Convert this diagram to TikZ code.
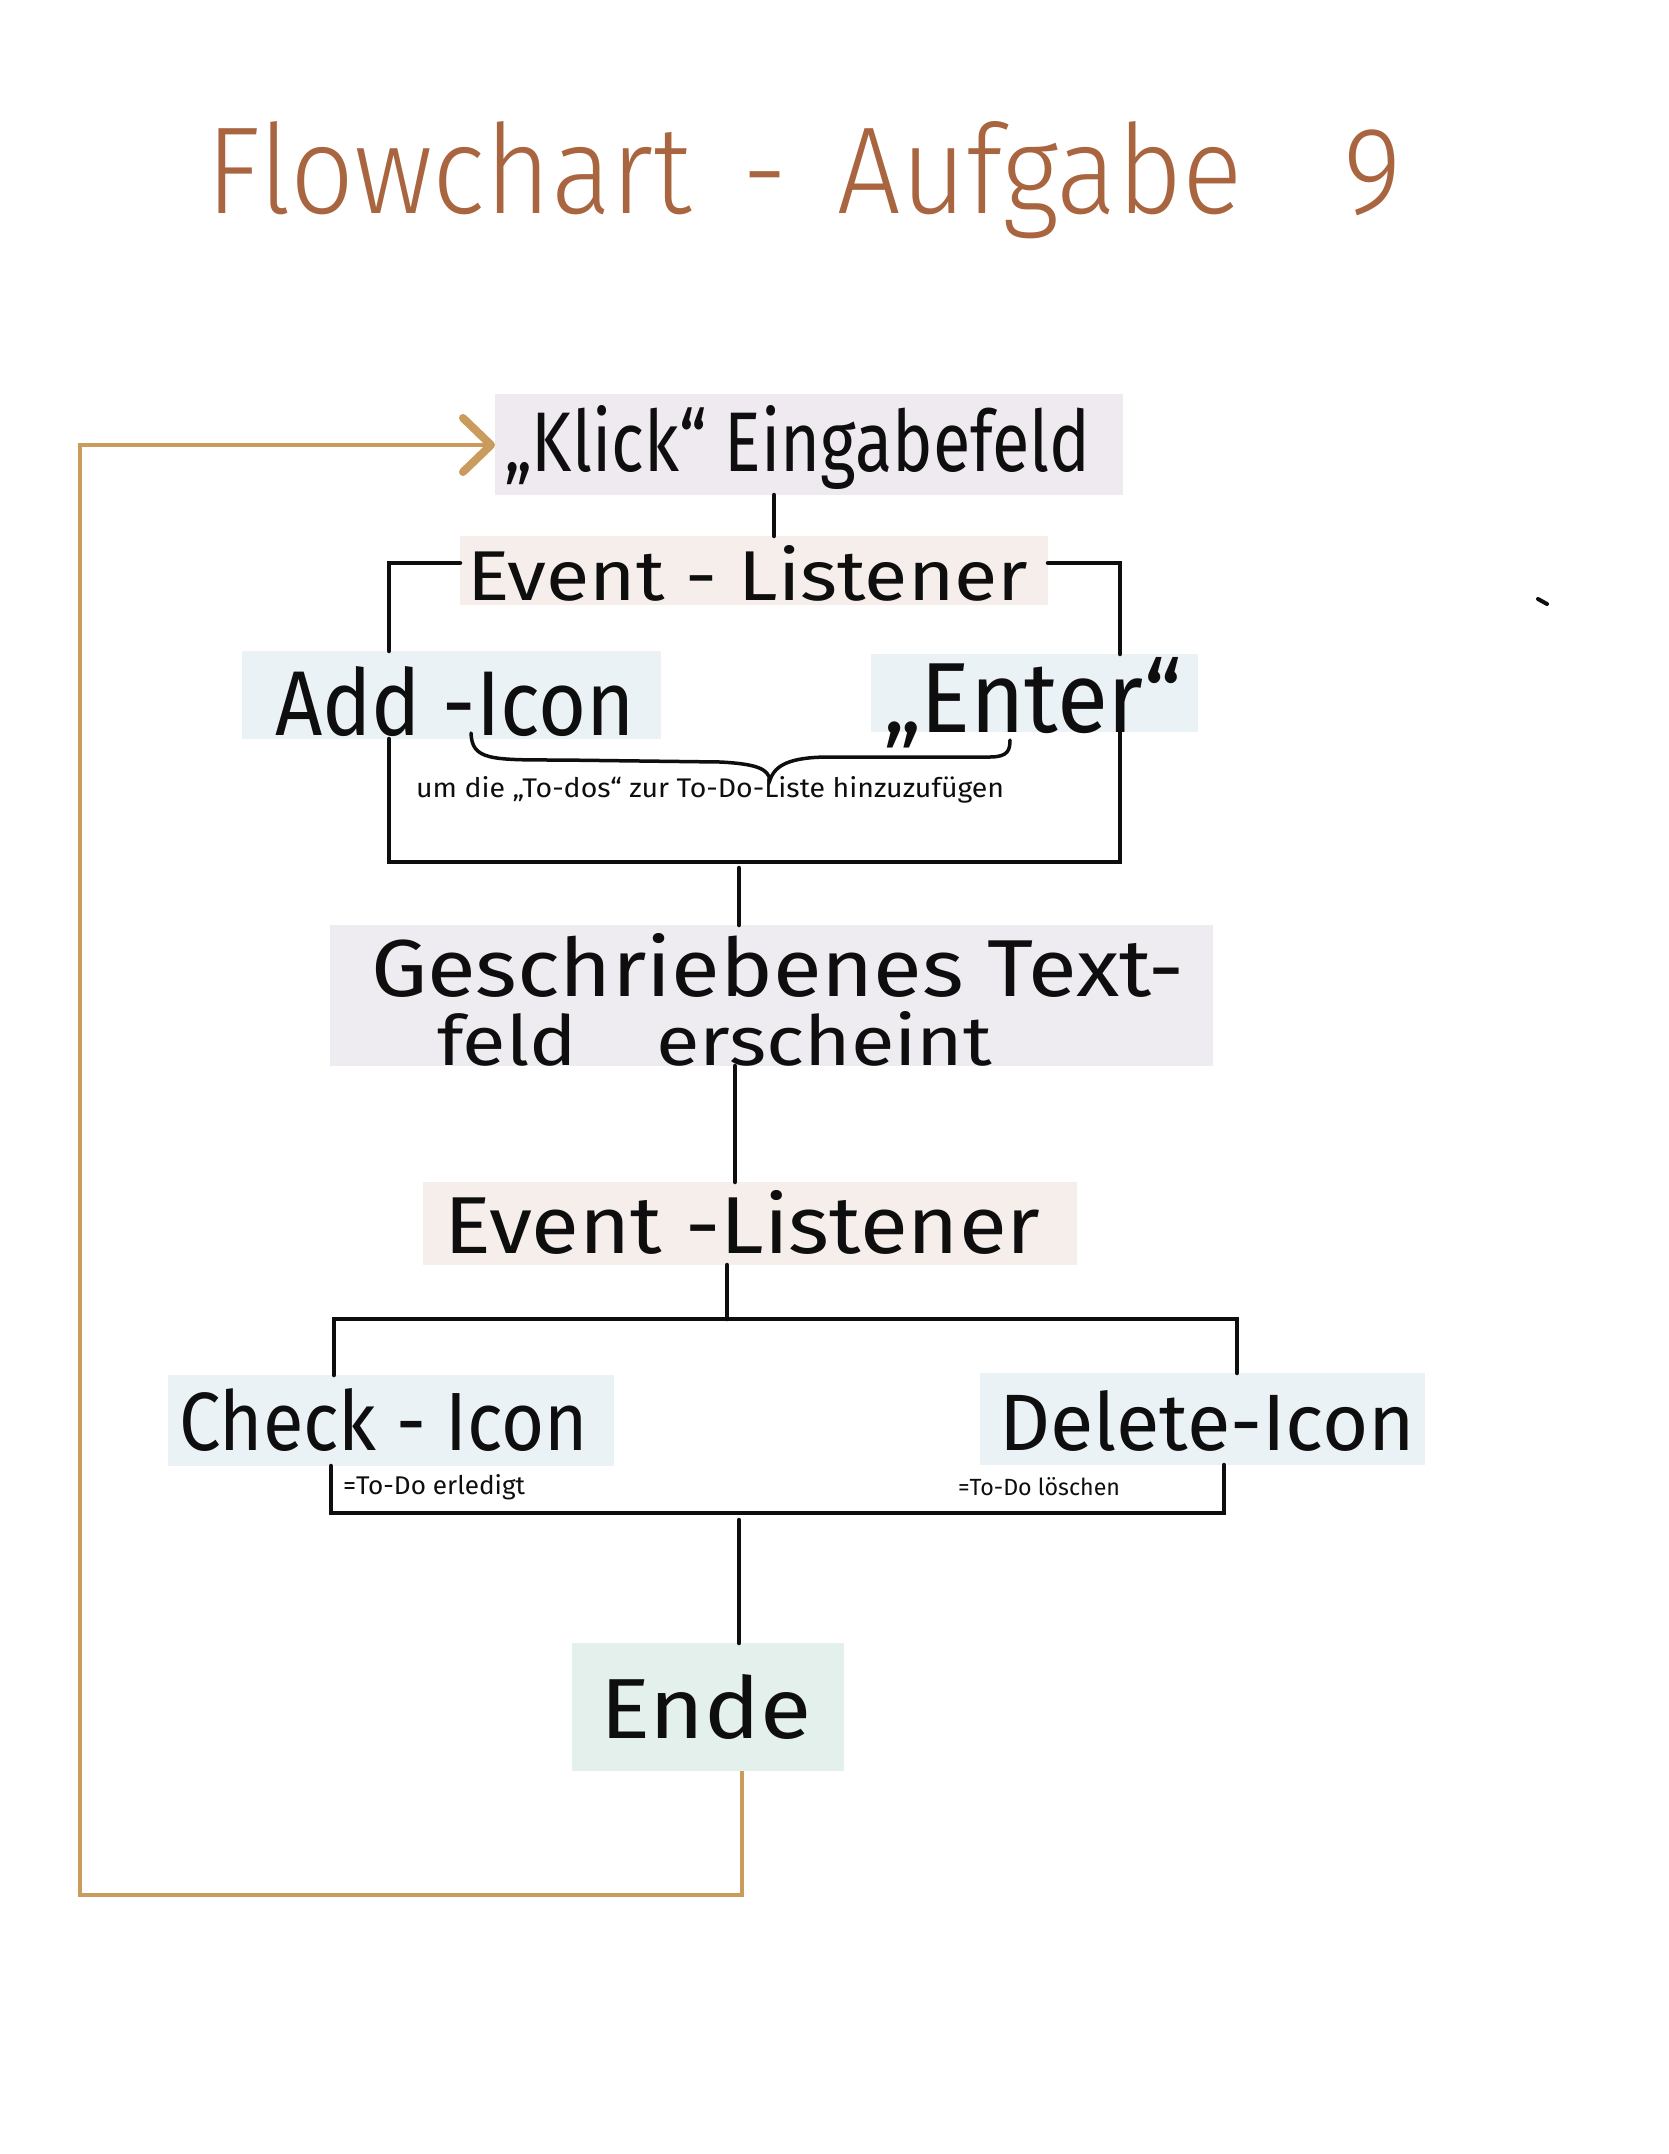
\documentclass[tikz,border=0pt]{standalone}
\usepackage{fontspec}
\setmainfont{Fira Sans}
\newfontfamily\titlefont{Fira Sans Light}
\usepackage{graphicx}
\usetikzlibrary{arrows.meta}
\definecolor{titlec}{HTML}{A9653F}
\definecolor{loopc}{HTML}{C99B5C}
\definecolor{inkc}{HTML}{0E0E0E}
\definecolor{klickc}{HTML}{EFEAEF}
\definecolor{elc}{HTML}{F6EEEB}
\definecolor{bluec}{HTML}{EBF2F5}
\definecolor{geschc}{HTML}{EEECF0}
\definecolor{endec}{HTML}{E4F0EC}
\newcommand{\fitt}[3]{\resizebox{#1pt}{#2pt}{#3}}
\begin{document}
\begin{tikzpicture}[x=1pt,y=-1pt,
  box/.style={draw=none,inner sep=0pt,outer sep=0pt,anchor=north west},
  txt/.style={inner sep=0pt,outer sep=0pt,anchor=base west,text=inkc},
  conn/.style={line width=4.5pt,draw=inkc,line cap=round,line join=miter},
  loopline/.style={line width=4.5pt,draw=loopc,line join=miter}]
\useasboundingbox (0,0) rectangle (1668,2154);
\fill[white] (0,0) rectangle (1668,2154);

% title
\node[txt,text=titlec] (title) at (206,213) {\titlefont\fitt{1195}{92}{\titlefont Flowchart\hspace{0.45em}-\hspace{0.45em}Aufgabe\hspace{0.9em}9}};

% boxes
\node[box,fill=klickc,minimum width=628pt,minimum height=101pt] (klick) at (495,394) {};
\node[box,fill=elc,minimum width=588pt,minimum height=69pt] (el1) at (460,536) {};
\node[box,fill=bluec,minimum width=419pt,minimum height=88pt] (add) at (242,651) {};
\node[box,fill=bluec,minimum width=327pt,minimum height=78pt] (enter) at (871,654) {};
\node[box,fill=geschc,minimum width=883pt,minimum height=141pt] (gesch) at (330,925) {};
\node[box,fill=elc,minimum width=654pt,minimum height=83pt] (el2) at (423,1182) {};
\node[box,fill=bluec,minimum width=446pt,minimum height=91pt] (check) at (168,1375) {};
\node[box,fill=bluec,minimum width=445pt,minimum height=92pt] (delete) at (980,1373) {};
\node[box,fill=endec,minimum width=272pt,minimum height=128pt] (ende) at (572,1643) {};

% texts
\node[txt] (tklick) at (504,471) {\fitt{586}{66}{„Klick“ Eingabefeld}};
\node[txt] (tel1) at (467,600) {\fitt{561}{55}{Event - Listener}};
\node[txt] (tadd) at (275,735) {\fitt{360}{69}{Add -Icon}};
\node[txt] (tenter) at (883,732) {\fitt{299}{75}{„Enter“}};
\node[txt] (tann1) at (416,797) {\fitt{588}{21}{um die „To-dos“ zur To-Do-Liste hinzuzufügen}};
\node[txt] (tg1) at (371,996) {\fitt{813}{63}{Geschriebenes Text-}};
\node[txt] (tg2) at (437,1065) {\fitt{555}{54}{feld\hspace{1em}erscheint}};
\node[txt] (tel2) at (444,1253) {\fitt{596}{63}{Event -Listener}};
\node[txt] (tcheck) at (179,1450) {\fitt{409}{62}{Check - Icon}};
\node[txt] (tdelete) at (999,1450) {\fitt{416}{60}{Delete-Icon}};
\node[txt] (tann2) at (343,1494) {\fitt{182}{20}{=To-Do erledigt}};
\node[txt] (tann3) at (958,1495) {\fitt{162}{18}{=To-Do löschen}};
\node[txt] (tende) at (600,1738) {\fitt{211}{64}{Ende}};

% junction coordinates
\coordinate (j1) at (739,862);
\coordinate (j2) at (727,1319);
\coordinate (j3) at (739,1513);

% connectors
\draw[conn] (774,0 |- klick.south) -- (774,0 |- el1.north);
\draw[conn] (el1.west |- 0,563) -- (389,563) -- (389,0 |- add.north);
\draw[conn] (el1.east |- 0,563) -- (1120,563) -- (1120,0 |- enter.north);
\draw[conn] (389,0 |- add.south) -- (389,862) -- (1120,862) -- (1120,0 |- enter.south);
\draw[conn] (739,868) -- (739,0 |- gesch.north);
\draw[conn] (735,0 |- gesch.south) -- (735,0 |- el2.north);
\draw[conn] (727,0 |- el2.south) -- (j2);
\draw[conn] (334,0 |- check.north) -- (334,1319) -- (1237,1319) -- (1237,0 |- delete.north);
\draw[conn] (331,0 |- check.south) -- (331,1513) -- (1224,1513) -- (1224,0 |- delete.south);
\draw[conn] (739,1520) -- (739,0 |- ende.north);

% brace
\draw[conn,line width=3.5pt] (471,733) .. controls (472,760) and (490,760) .. (560,760) -- (720,762) .. controls (760,764) and (768,770) .. (770,780) .. controls (775,765) and (790,757) .. (830,757) -- (990,757) .. controls (1008,757) and (1010,750) .. (1010,740);

% loop back
\draw[loopline,-{Straight Barb[length=28pt,width=54pt,line width=8pt,round]}]
  (742,0 |- ende.south) -- (742,1895) -- (80,1895) -- (80,445) -- (klick.west |- 0,445);

% stray mark
\draw[line width=4pt,line cap=round,inkc] (1538,599) -- (1547,604);
\end{tikzpicture}
\end{document}
